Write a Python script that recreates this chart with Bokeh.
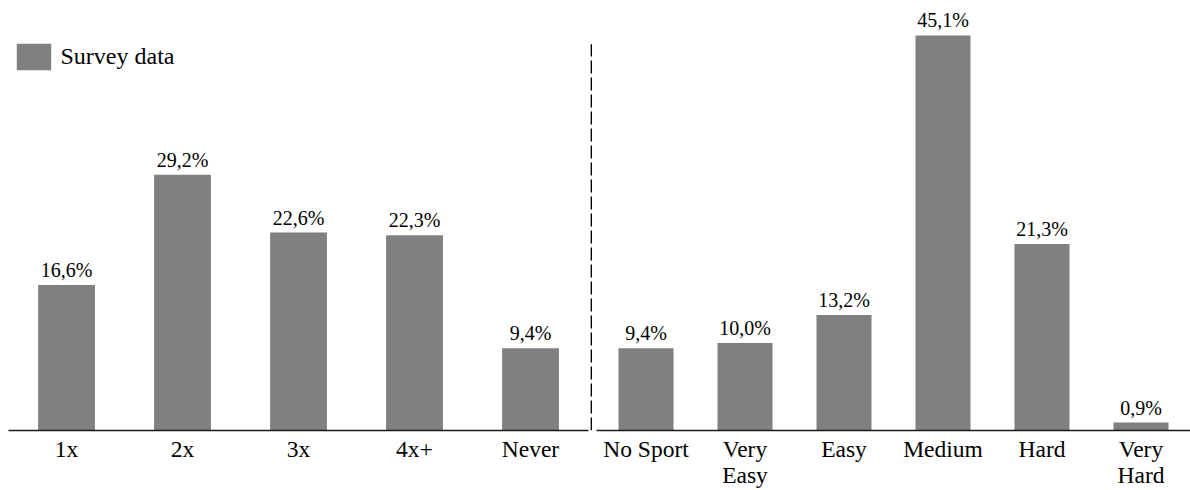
from bokeh.plotting import figure
from bokeh.layouts import row
from bokeh.models import Range1d, FixedTicker, Legend, LegendItem, ColumnDataSource
from bokeh.core.properties import value
from bokeh.embed import file_html
from bokeh.resources import INLINE

# Training frequency per week
freq_labels = ["1x", "2x", "3x", "4x+", "Never"]
freq_values = [16.6, 29.2, 22.6, 22.3, 9.4]

# Perceived difficulty of sport
level_labels = ["No Sport", "Very\nEasy", "Easy", "Medium", "Hard", "Very\nHard"]
level_values = [9.4, 10.0, 13.2, 45.1, 21.3, 0.9]

series_name = "Survey data"

FONT = "'Liberation Serif', 'DejaVu Serif', serif"
BAR_COLOR = "#808080"
Y_MAX = 49.09
HEIGHT = 490


def fmt(v):
    return f"{v:.1f}%".replace(".", ",")


def make_panel(labels, values, width, x_start, x_end, bar_width, border_left):
    xs = [i + 0.5 for i in range(len(labels))]
    src = ColumnDataSource(dict(x=xs, top=values, label=[fmt(v) for v in values]))
    p = figure(width=width, height=HEIGHT, output_backend="svg", toolbar_location=None,
               x_range=Range1d(x_start, x_end), y_range=Range1d(0, Y_MAX),
               min_border_left=border_left, min_border_right=0,
               min_border_top=0, min_border_bottom=50)
    bars = p.vbar(x="x", top="top", width=bar_width, source=src,
                  fill_color=BAR_COLOR, line_color=None)
    p.text(x="x", y="top", text="label", source=src, text_align="center",
           text_baseline="alphabetic", y_offset=-15, text_font=value(FONT),
           text_font_size="20px", text_color="black")
    p.yaxis.visible = False
    p.grid.visible = False
    p.outline_line_color = None
    ax = p.xaxis[0]
    ax.ticker = FixedTicker(ticks=xs)
    ax.major_label_overrides = {x: lab for x, lab in zip(xs, labels)}
    ax.bounds = (0, len(labels))
    ax.axis_line_color = "#1a1a1a"
    ax.axis_line_width = 1.6
    ax.major_tick_line_color = None
    ax.minor_tick_line_color = None
    ax.major_tick_out = 0
    ax.major_tick_in = 0
    ax.major_label_standoff = 5
    ax.major_label_text_font = FONT
    ax.major_label_text_font_size = "23.5px"
    ax.major_label_text_line_height = 1.0
    ax.major_label_text_color = "black"
    return p, bars


left, left_bars = make_panel(freq_labels, freq_values, 592, 0, 584 / 116, 0.49, 8)
right, _ = make_panel(level_labels, level_values, 598, -4 / 99, 6, 0.556, 0)

# dashed separator between the two question blocks
sep_x = 5.025
left.segment(x0=sep_x, x1=sep_x, y0=0, y1=44.1, line_color="black",
             line_width=1.5, line_dash="13 4")

legend = Legend(items=[LegendItem(label=series_name, renderers=[left_bars])],
                location=(3.5, 357.5), orientation="vertical",
                glyph_width=43, glyph_height=33, label_standoff=6,
                padding=0, margin=0, spacing=0,
                border_line_color=None, background_fill_alpha=0,
                label_text_font=FONT, label_text_font_size="24px",
                label_text_color="black")
left.add_layout(legend, "center")

layout = row(left, right, spacing=0)
open("out.html", "w").write(file_html(layout, INLINE))
